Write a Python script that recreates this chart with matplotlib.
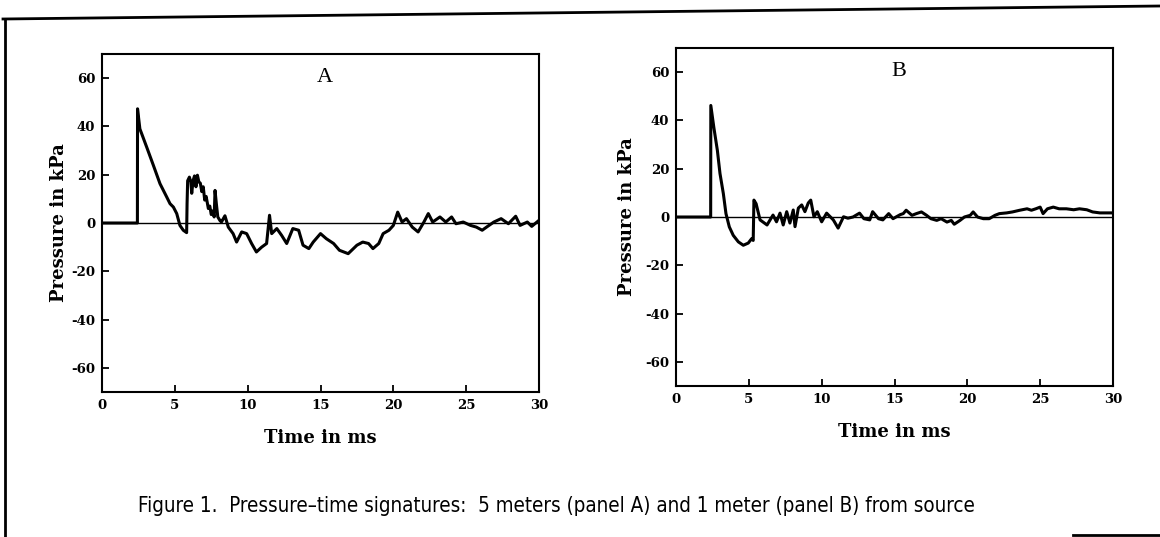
import matplotlib
matplotlib.use("Agg")
import matplotlib.pyplot as plt
from matplotlib.lines import Line2D

W, H = 1160, 537

# Panel A: 5 m from source (time in ms, pressure in kPa)
time_a = [0, 2.43, 2.44, 2.6, 3.07, 3.52, 3.98, 4.44, 4.67, 4.9, 5.13, 5.35, 5.58, 5.81, 5.84,
          5.88, 6.0, 6.1, 6.16, 6.25, 6.35, 6.45, 6.55, 6.65, 6.75, 6.85, 6.95, 7.05, 7.15,
          7.3, 7.4, 7.5, 7.6, 7.7, 7.76, 7.85, 7.95, 8.1, 8.2, 8.44, 8.67,
          9.0, 9.24, 9.59, 9.93, 10.27, 10.6, 10.96, 11.3, 11.5, 11.65, 12.0, 12.33, 12.68,
          13.1, 13.5, 13.8, 14.2, 14.5, 15.0, 15.4, 15.9, 16.3, 16.9, 17.5, 17.9, 18.3, 18.6,
          19.0, 19.3, 19.7, 20.0, 20.3, 20.6, 20.9, 21.3, 21.7, 22.1, 22.4, 22.7, 23.2, 23.6,
          24.0, 24.3, 24.8, 25.3, 25.7, 26.1, 26.4, 26.9, 27.4, 27.9, 28.4, 28.7, 29.2, 29.5, 30.0]
press_a = [0, 0, 47.3, 39, 31.4, 24, 16.3, 10.8, 8, 6.6, 3.9, -1, -3, -4, 8,
           17.5, 19, 17, 12.3, 17.5, 19.5, 15, 19.8, 17, 16.5, 13, 15, 9.5, 11,
           6, 7, 3.5, 5, 2.5, 13.5, 8, 2.5, 1, 0.4, 3, -1.7,
           -4.4, -7.9, -3.7, -4.4, -8.5, -12, -10, -8.5, 3.2, -4.4, -2.3, -5.1, -8.5,
           -2.3, -3, -9.2, -10.6, -7.9, -4.4, -6.5, -8.5, -11.3, -12.7, -9.2, -7.9, -8.5, -10.6,
           -8.5, -4.4, -3, -1, 4.5, 0.4, 1.8, -1.7, -3.7, 0.4, 3.9, 0.4, 2.5, 0.4,
           2.5, -0.3, 0.4, -1, -1.7, -3, -1.7, 0.4, 1.8, -0.3, 2.8, -1, 0.4, -1.4, 1.1]

# Panel B: 1 m from source
time_b = [0, 2.38, 2.39, 2.6, 2.84, 3.02, 3.25, 3.43, 3.66, 3.93, 4.28, 4.62, 4.96, 5.19, 5.3,
          5.35, 5.5, 5.77, 6.25, 6.66, 6.9, 7.14, 7.36, 7.6, 7.82, 8.05, 8.17, 8.4, 8.63,
          8.85, 9.08, 9.25, 9.47, 9.7, 10.0, 10.34, 10.8, 11.13, 11.5, 11.8, 12.15, 12.6, 12.9,
          13.3, 13.5, 13.9, 14.2, 14.6, 14.9, 15.1, 15.4, 15.6, 15.8, 16.2, 16.5,
          16.85, 17.2, 17.5, 17.9, 18.2, 18.6, 18.9, 19.1, 19.5, 19.8, 20.2, 20.4, 20.7, 21.1,
          21.5, 21.9, 22.2, 22.7, 23.1, 23.6, 24.1, 24.4, 24.7, 25.0, 25.2, 25.5, 25.9, 26.3,
          26.8, 27.3, 27.7, 28.2, 28.6, 29.1, 29.5, 30.0]
press_b = [0, 0, 46.2, 37, 27.6, 18, 9.7, 1.4, -4.1, -7.6, -10.3, -11.7, -10.8, -9, -9.7,
           7, 5.5, -1.2, -3.3, 0.8, -2, 1.6, -3.3, 2.2, -2.5, 2.9, -4, 3.7, 5,
           2.2, 5.8, 7, 0.1, 2.2, -2, 1.6, -1.2, -4.6, 0.1, -0.5, 0, 1.6, -0.7,
           -1.2, 2.2, -0.7, -1.2, 1.4, -0.7, 0, 1.0, 1.4, 2.8, 0.7, 1.4,
           2.1, 0.7, -0.7, -1.4, -0.7, -2.1, -1.4, -3, -1.4, 0, 0.7, 2.1, 0, -0.7,
           -0.7, 0.7, 1.4, 1.7, 2.1, 2.8, 3.4, 2.8, 3.4, 4.1, 1.4, 3.4, 4.1, 3.4,
           3.4, 3.0, 3.4, 3.0, 2.1, 1.7, 1.7, 1.7]

x_ticks = [0, 5, 10, 15, 20, 25, 30]
y_ticks = [-60, -40, -20, 0, 20, 40, 60]

serif = "DejaVu Serif"
plt.rcParams["axes.unicode_minus"] = False


def px_rect(left, top, right, bottom):
    return [left / W, 1 - bottom / H, (right - left) / W, (bottom - top) / H]


def draw_panel(ax, t, p, letter, ylab_x):
    ax.plot(t, p, color="black", lw=2.2, solid_joinstyle="round")
    ax.axhline(0, color="black", lw=1.0)
    ax.set_xlim(0, 30)
    ax.set_ylim(-70, 70)
    ax.set_xticks(x_ticks)
    ax.set_yticks(y_ticks)
    ax.tick_params(direction="in", length=5, width=1.3, top=False, right=False, pad=5)
    for lab in ax.get_xticklabels() + ax.get_yticklabels():
        lab.set_fontfamily(serif)
        lab.set_fontweight("bold")
        lab.set_fontsize(9.5)
    for s in ax.spines.values():
        s.set_linewidth(1.5)
    ax.set_xlabel("Time in ms", fontfamily=serif, fontweight="bold", fontsize=13)
    ax.xaxis.set_label_coords(0.5, -0.11, transform=ax.transAxes)
    ax.set_ylabel("Pressure in kPa", fontfamily=serif, fontweight="bold", fontsize=13)
    ax.yaxis.set_label_coords(ylab_x, 0.5, transform=ax.transAxes)
    ax.text(0.51, 0.93, letter, transform=ax.transAxes,
            fontfamily="Liberation Serif", fontsize=16, ha="center", va="center")


fig = plt.figure(figsize=(W / 100, H / 100), dpi=100)

ax_a = fig.add_axes(px_rect(102, 54, 539, 392))
draw_panel(ax_a, time_a, press_a, "A", -0.078)

ax_b = fig.add_axes(px_rect(676, 48, 1113, 386))
draw_panel(ax_b, time_b, press_b, "B", -0.092)

fig.text(138 / W, 1 - 506 / H,
         "Figure 1.  Pressure\u2013time signatures:  5 meters (panel A) and 1 meter (panel B) from source",
         fontfamily="DejaVu Sans", fontstretch="condensed", fontsize=14.8, ha="left", va="center")

# scanned page frame
frame = dict(color="black", lw=2.0, transform=fig.transFigure)
fig.add_artist(Line2D([3 / W, 1.0], [1 - 19 / H, 1 - 6 / H], **frame))
fig.add_artist(Line2D([5 / W, 5 / W], [1 - 19 / H, 0.0], **frame))
fig.add_artist(Line2D([1073 / W, 1.0], [1 - 535 / H, 1 - 535 / H], **frame))

fig.savefig("out.png", dpi=100)
